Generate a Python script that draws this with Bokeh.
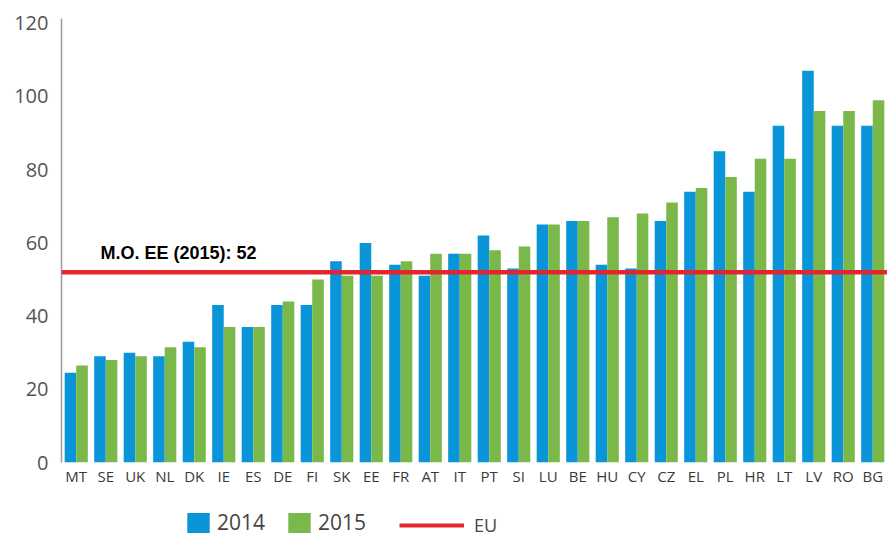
from bokeh.plotting import figure
from bokeh.models import (ColumnDataSource, FactorRange, Range1d, Span, Label,
                          Legend, LegendItem)
from bokeh.layouts import column
from bokeh.transform import dodge
from bokeh.embed import file_html
from bokeh.resources import INLINE

countries = ["MT", "SE", "UK", "NL", "DK", "IE", "ES", "DE", "FI", "SK", "EE",
             "FR", "AT", "IT", "PT", "SI", "LU", "BE", "HU", "CY", "CZ", "EL",
             "PL", "HR", "LT", "LV", "RO", "BG"]
values_2014 = [24.5, 29, 30, 29, 33, 43, 37, 43, 43, 55, 60,
               54, 51, 57, 62, 53, 65, 66, 54, 53, 66, 74,
               85, 74, 92, 107, 92, 92]
values_2015 = [26.5, 28, 29, 31.5, 31.5, 37, 37, 44, 50, 51, 51,
               55, 57, 57, 58, 59, 65, 66, 67, 68, 71, 75,
               78, 83, 83, 96, 96, 99]
eu_value = 52
eu_label = "M.O. EE (2015): 52"
y_ticks = [0, 20, 40, 60, 80, 100, 120]
series_labels = ["2014", "2015", "EU"]

BLUE = "#0A95D8"
GREEN = "#7AB84A"
RED = "#E3262D"

source = ColumnDataSource(dict(country=countries, v2014=values_2014, v2015=values_2015))
eu_source = ColumnDataSource(dict(country=[countries[0], countries[-1]],
                                  eu=[eu_value, eu_value]))

p = figure(width=887, height=500, output_backend="svg", toolbar_location=None,
           x_range=FactorRange(factors=countries, range_padding=0),
           y_range=Range1d(0, 121.3),
           min_border_left=61, min_border_right=0, min_border_top=18,
           min_border_bottom=38)
p.outline_line_color = None
p.grid.visible = False
p.background_fill_color = "white"
p.border_fill_color = "white"

p.vbar(x=dodge("country", -0.196, range=p.x_range), top="v2014", width=0.392,
       source=source, fill_color=BLUE, line_color=None)
p.vbar(x=dodge("country", 0.196, range=p.x_range), top="v2015", width=0.392,
       source=source, fill_color=GREEN, line_color=None)

p.add_layout(Span(location=eu_value, dimension="width", line_color=RED, line_width=4.5))

p.add_layout(Label(x=1.32, y=eu_value, y_offset=9, text=eu_label,
                   text_font="Liberation Sans", text_font_style="bold",
                   text_font_size="18px", text_color="black"))

# axes
p.yaxis.ticker = y_ticks
p.yaxis.axis_line_color = "#9a9a9a"
p.yaxis.axis_line_width = 1.5
p.yaxis.major_tick_line_color = None
p.yaxis.minor_tick_line_color = None
p.yaxis.major_tick_out = 0
p.yaxis.major_tick_in = 0
p.yaxis.major_label_standoff = 13
p.yaxis.major_label_text_font = "Open Sans"
p.yaxis.major_label_text_font_size = "20px"
p.yaxis.major_label_text_color = "#555555"

p.xaxis.axis_line_color = None
p.xaxis.major_tick_line_color = None
p.xaxis.minor_tick_line_color = None
p.xaxis.major_tick_out = 0
p.xaxis.major_tick_in = 0
p.xaxis.major_label_standoff = 3
p.xaxis.major_label_text_font = "Open Sans"
p.xaxis.major_label_text_font_size = "15px"
p.xaxis.major_label_text_color = "#3a3a3a"

# legend strip below the chart (renderers hidden, only used for the legend swatches)
lp = figure(width=887, height=37, output_backend="svg", toolbar_location=None,
            x_range=FactorRange(factors=countries), y_range=Range1d(0, 121.3),
            min_border=0)
lp.axis.visible = False
lp.grid.visible = False
lp.outline_line_color = None
lp.border_fill_color = "white"

d14 = lp.vbar(x="country", top="v2014", width=0.4, source=source,
              fill_color=BLUE, line_color=None, visible=False)
d15 = lp.vbar(x="country", top="v2015", width=0.4, source=source,
              fill_color=GREEN, line_color=None, visible=False)
deu = lp.line(x="country", y="eu", source=eu_source,
              line_color=RED, line_width=4, visible=False)

leg1 = Legend(items=[LegendItem(label=series_labels[0], renderers=[d14]),
                     LegendItem(label=series_labels[1], renderers=[d15])],
              location=(123, 1), orientation="horizontal",
              glyph_width=28, glyph_height=25, label_standoff=5, spacing=20,
              padding=0, margin=0, border_line_color=None,
              background_fill_alpha=0, inactive_fill_alpha=0,
              label_text_font="Open Sans", label_text_font_size="21px",
              label_text_color="#444444")
leg2 = Legend(items=[LegendItem(label=series_labels[2], renderers=[deu])],
              location=(338, 0), orientation="horizontal",
              glyph_width=65, glyph_height=8, label_standoff=10,
              padding=0, margin=0, border_line_color=None,
              background_fill_alpha=0, inactive_fill_alpha=0,
              label_text_font="Open Sans", label_text_font_size="18px",
              label_text_color="#444444")
lp.add_layout(leg1)
lp.add_layout(leg2)

layout = column(p, lp, spacing=0)
open("out.html", "w").write(file_html(layout, INLINE))
